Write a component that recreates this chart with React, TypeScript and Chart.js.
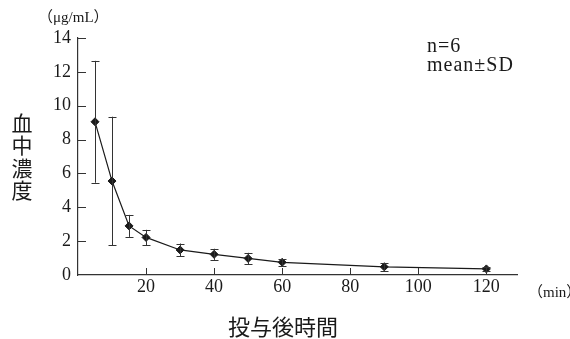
import React, { useEffect, useRef } from "react";
import { Chart, registerables } from "chart.js";

Chart.register(...registerables);

const times = [5, 10, 15, 20, 30, 40, 50, 60, 90, 120];
const means = [9.05, 5.55, 2.9, 2.22, 1.48, 1.22, 0.98, 0.75, 0.48, 0.36];
const sds = [3.6, 3.8, 0.65, 0.45, 0.38, 0.33, 0.33, 0.2, 0.25, 0.14];
const yUnit = "（μg/mL）";
const xUnit = "（min）";
const yTitle = ["血", "中", "濃", "度"];
const xTitle = "投与後時間";
const noteLines = ["n=6", "mean±SD"];

const SERIF = "'Liberation Serif', 'DejaVu Serif', serif";
const CJK = "'Noto Sans CJK JP', sans-serif";
const INK = "#1a1a1a";

const extrasPlugin = {
  id: "extras",
  afterDatasetsDraw(chart: any) {
    const { ctx, scales } = chart;
    const xs = scales.x;
    const ys = scales.y;
    ctx.save();
    ctx.strokeStyle = "#333";
    ctx.lineWidth = 1;
    for (let i = 0; i < times.length; i++) {
      const px = Math.round(xs.getPixelForValue(times[i])) + 0.5;
      const top = ys.getPixelForValue(means[i] + sds[i]);
      const bot = ys.getPixelForValue(Math.max(0, means[i] - sds[i]));
      ctx.beginPath();
      ctx.moveTo(px, top);
      ctx.lineTo(px, bot);
      ctx.moveTo(px - 4, Math.round(top) + 0.5);
      ctx.lineTo(px + 4, Math.round(top) + 0.5);
      ctx.moveTo(px - 4, Math.round(bot) + 0.5);
      ctx.lineTo(px + 4, Math.round(bot) + 0.5);
      ctx.stroke();
    }
    ctx.restore();
  },
  afterDraw(chart: any) {
    const { ctx, scales, chartArea } = chart;
    const xs = scales.x;
    const ys = scales.y;
    ctx.save();
    // inward tick marks
    ctx.strokeStyle = "#333";
    ctx.lineWidth = 1;
    ctx.beginPath();
    xs.ticks.forEach((t: any) => {
      if (t.value === 0) return;
      const px = Math.round(xs.getPixelForValue(t.value)) + 0.5;
      ctx.moveTo(px, chartArea.bottom);
      ctx.lineTo(px, chartArea.bottom - 7);
    });
    ys.ticks.forEach((t: any) => {
      if (t.value === 0) return;
      const py = Math.round(ys.getPixelForValue(t.value)) + 0.5;
      ctx.moveTo(chartArea.left, py);
      ctx.lineTo(chartArea.left + 8, py);
    });
    ctx.stroke();

    ctx.fillStyle = INK;
    ctx.textBaseline = "middle";
    // units
    ctx.textAlign = "left";
    ctx.font = `15px ${SERIF}, ${CJK}`;
    ctx.fillText(yUnit, 38, 18);
    ctx.fillText(xUnit, 528, 293);
    // note
    ctx.font = `20px ${SERIF}`;
    (ctx as any).letterSpacing = "1px";
    ctx.fillText(noteLines[0], 427, 47);
    ctx.fillText(noteLines[1], 427, 66);
    (ctx as any).letterSpacing = "0px";
    // y title vertical
    ctx.textAlign = "center";
    ctx.font = `21px ${CJK}`;
    yTitle.forEach((ch, i) => {
      ctx.fillText(ch, 22, 123 + i * 22.5);
    });
    // x title
    ctx.font = `22px ${CJK}`;
    ctx.fillText(xTitle, 283, 327);
    ctx.restore();
  },
};

export default function App() {
  const ref = useRef<HTMLCanvasElement | null>(null);
  useEffect(() => {
    if (!ref.current) return;
    const chart = new Chart(ref.current, {
      type: "line",
      data: {
        datasets: [
          {
            data: times.map((t, i) => ({ x: t, y: means[i] })),
            borderColor: INK,
            borderWidth: 1.2,
            pointStyle: "rectRot",
            pointRadius: 4,
            pointBackgroundColor: INK,
            pointBorderColor: INK,
            pointBorderWidth: 1,
            tension: 0,
            fill: false,
          },
        ],
      },
      options: {
        responsive: false,
        animation: false,
        events: [],
        layout: { padding: { top: 38, right: 53, left: 0, bottom: 0 } },
        plugins: {
          legend: { display: false },
          tooltip: { enabled: false },
        },
        scales: {
          x: {
            type: "linear",
            min: 0,
            max: 129,
            grid: { display: false, drawTicks: false },
            border: { display: true, color: "#333", width: 1.2 },
            ticks: {
              stepSize: 20,
              includeBounds: false,
              autoSkip: false,
              maxRotation: 0,
              padding: 1,
              color: INK,
              font: { family: SERIF, size: 18 },
              callback: (v: any) => (v === 0 ? "" : String(v)),
            },
            afterFit: (s: any) => {
              s.height = 64;
            },
          },
          y: {
            type: "linear",
            min: 0,
            max: 14,
            grid: { display: false, drawTicks: false },
            border: { display: true, color: "#333", width: 1.2 },
            ticks: {
              stepSize: 2,
              padding: 7,
              color: INK,
              font: { family: SERIF, size: 18 },
            },
            afterFit: (s: any) => {
              s.width = 78;
            },
          },
        },
      },
      plugins: [extrasPlugin],
    } as any);
    return () => chart.destroy();
  }, []);
  return (
    <div style={{ position: "fixed", left: 0, top: 0, width: 570, height: 339, background: "#fff" }}>
      <canvas ref={ref} width={570} height={339} style={{ width: 570, height: 339 }} />
    </div>
  );
}
